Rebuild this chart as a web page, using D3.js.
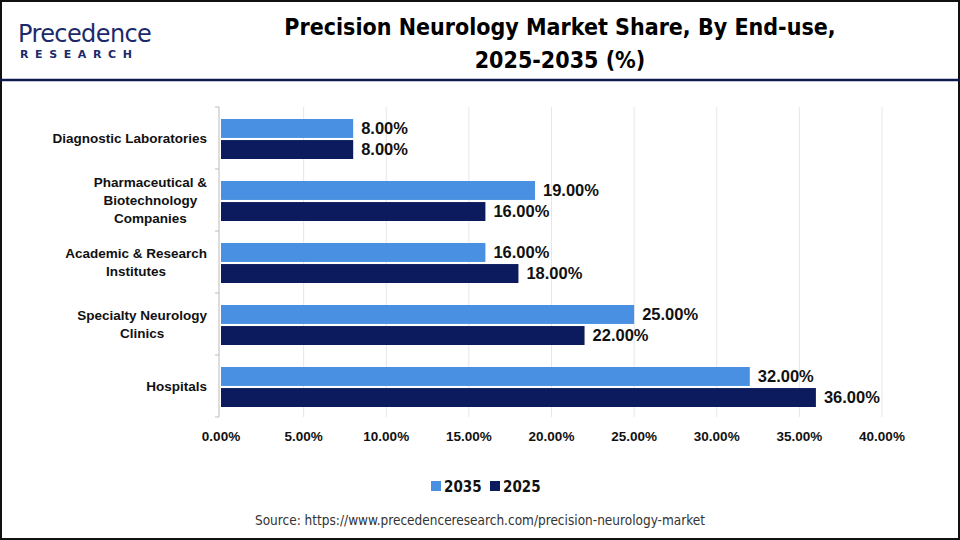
<!DOCTYPE html>
<html><head><meta charset="utf-8">
<script src="https://cdn.jsdelivr.net/npm/d3@7"></script>
<style>body{margin:0;background:#fff}svg{display:block}</style>
</head><body>
<svg id="c" width="960" height="540"></svg>
<script>
const categories = ["Diagnostic Laboratories", "Pharmaceutical & Biotechnology Companies", "Academic & Research Institutes", "Specialty Neurology Clinics", "Hospitals"];
const categoryLines = [["Diagnostic Laboratories"], ["Pharmaceutical &", "Biotechnology", "Companies"], ["Academic & Research", "Institutes"], ["Specialty Neurology", "Clinics"], ["Hospitals"]];
const seriesNames = ["2035", "2025"];
const values2035 = [8, 19, 16, 25, 32];
const values2025 = [8, 16, 18, 22, 36];
const xTicks = [0, 5, 10, 15, 20, 25, 30, 35, 40];
const colors = ["#4a90e2", "#0c1a5e"];

const svg = d3.select("#c");
const W = 960, H = 540;
svg.append("rect").attr("x",1).attr("y",1).attr("width",W-2).attr("height",H-2).attr("fill","#fff").attr("stroke","#111").attr("stroke-width",2);
svg.append("line").attr("x1",0).attr("x2",W).attr("y1",80).attr("y2",80).attr("stroke","#0c1a4e").attr("stroke-width",2.5);

// Logo
const logo = svg.append("g");
logo.append("text").attr("x",18).attr("y",42).attr("font-family","'DejaVu Sans', sans-serif").attr("font-size",24).attr("fill","#1b2a6b").attr("letter-spacing",-0.6).text("Precedence");
logo.append("text").attr("x",20).attr("y",58).attr("font-family","'DejaVu Sans', sans-serif").attr("font-size",11).attr("font-weight","bold").attr("fill","#1b2a6b").attr("letter-spacing",6.6).text("RESEARCH");

// Title
const title = svg.append("text").attr("text-anchor","middle").attr("font-family","'DejaVu Sans Condensed','Liberation Sans Narrow',sans-serif").attr("font-stretch","condensed").attr("font-weight","bold").attr("font-size",23).attr("fill","#000");
title.append("tspan").attr("x",560).attr("y",35).text("Precision Neurology Market Share, By End-use,");
title.append("tspan").attr("x",560).attr("y",68).text("2025-2035 (%)");

const x = d3.scaleLinear().domain([0,40]).range([221, 882]);
const y = d3.scaleBand().domain(categories).range([107, 417]);
const sub = d3.scaleBand().domain(seriesNames).range([12, 52]).paddingInner(0.1);

// gridlines
svg.append("g").selectAll("line").data(xTicks.slice(1)).join("line")
  .attr("x1",d=>x(d)).attr("x2",d=>x(d)).attr("y1",107).attr("y2",417)
  .attr("stroke","#e6e6e6").attr("stroke-width",1);

// y axis
const yAxis = svg.append("g").attr("transform","translate(219,0)");
yAxis.append("line").attr("x1",0).attr("x2",0).attr("y1",107).attr("y2",417).attr("stroke","#bbb");
yAxis.selectAll("line.t").data(d3.range(categories.length+1)).join("line").attr("class","t")
  .attr("x1",-4).attr("x2",0).attr("y1",i=>107+i*y.step()).attr("y2",i=>107+i*y.step()).attr("stroke","#bbb");

const data = categories.map((c,i)=>({c, vals:[values2035[i], values2025[i]]}));
const g = svg.append("g").selectAll("g").data(data).join("g").attr("transform",d=>`translate(0,${y(d.c)})`);
g.selectAll("rect").data(d=>d.vals.map((v,j)=>({v, s:seriesNames[j], j}))).join("rect")
  .attr("x",x(0)).attr("y",d=>sub(d.s)).attr("width",d=>x(d.v)-x(0)).attr("height",sub.bandwidth()).attr("fill",d=>colors[d.j]);
g.selectAll("text.v").data(d=>d.vals.map((v,j)=>({v, s:seriesNames[j], j}))).join("text").attr("class","v")
  .attr("x",d=>x(d.v)+8).attr("y",d=>sub(d.s)+sub.bandwidth()/2).attr("dy","0.36em")
  .attr("font-family","'Liberation Sans', Arial, sans-serif").attr("font-weight","bold").attr("font-size",16.5).attr("fill","#111")
  .text(d=>d.v.toFixed(2)+"%");

// category labels
const cl = svg.append("g").selectAll("text").data(categories).join("text")
  .attr("font-family","'Liberation Sans', Arial, sans-serif").attr("font-weight","bold").attr("font-size",13.5).attr("fill","#111");
cl.each(function(c,i){
  const lines = categoryLines[i];
  const cy = y(c)+y.bandwidth()/2;
  const lh = 18;
  const sel = d3.select(this);
  lines.forEach((t,k)=>{
    sel.append("tspan").attr("x",207).attr("text-anchor","end").attr("y",cy+(k-(lines.length-1)/2)*lh).attr("dy","0.35em").text(t);
  });
});
cl.each(function(){
  const ts = d3.select(this).selectAll("tspan").nodes();
  if (ts.length<2) return;
  const mw = d3.max(ts.map(n=>n.getComputedTextLength()));
  const cx = 207 - mw/2;
  ts.forEach(n=>{d3.select(n).attr("x",cx).attr("text-anchor","middle");});
});

// x tick labels
svg.append("g").selectAll("text").data(xTicks).join("text")
  .attr("x",d=>x(d)).attr("y",441).attr("text-anchor","middle")
  .attr("font-family","'Liberation Sans', Arial, sans-serif").attr("font-weight","bold").attr("font-size",13.5).attr("fill","#111")
  .text(d=>d.toFixed(2)+"%");

// legend
const lg = svg.append("g");
const legX = [431, 490];
seriesNames.forEach((s,j)=>{
  lg.append("rect").attr("x",legX[j]).attr("y",481).attr("width",10).attr("height",10).attr("fill",colors[j]);
  lg.append("text").attr("x",legX[j]+13).attr("y",491.5).attr("font-family","'DejaVu Sans Condensed','Liberation Sans Narrow',sans-serif").attr("font-stretch","condensed").attr("font-weight","bold").attr("font-size",15).attr("fill","#111").text(s);
});

// source
svg.append("text").attr("x",480).attr("y",525).attr("text-anchor","middle")
  .attr("font-family","'DejaVu Sans Condensed','Liberation Sans Narrow',sans-serif").attr("font-stretch","condensed").attr("font-size",13.5).attr("fill","#333")
  .text("Source: https://www.precedenceresearch.com/precision-neurology-market");
</script>
</body></html>
